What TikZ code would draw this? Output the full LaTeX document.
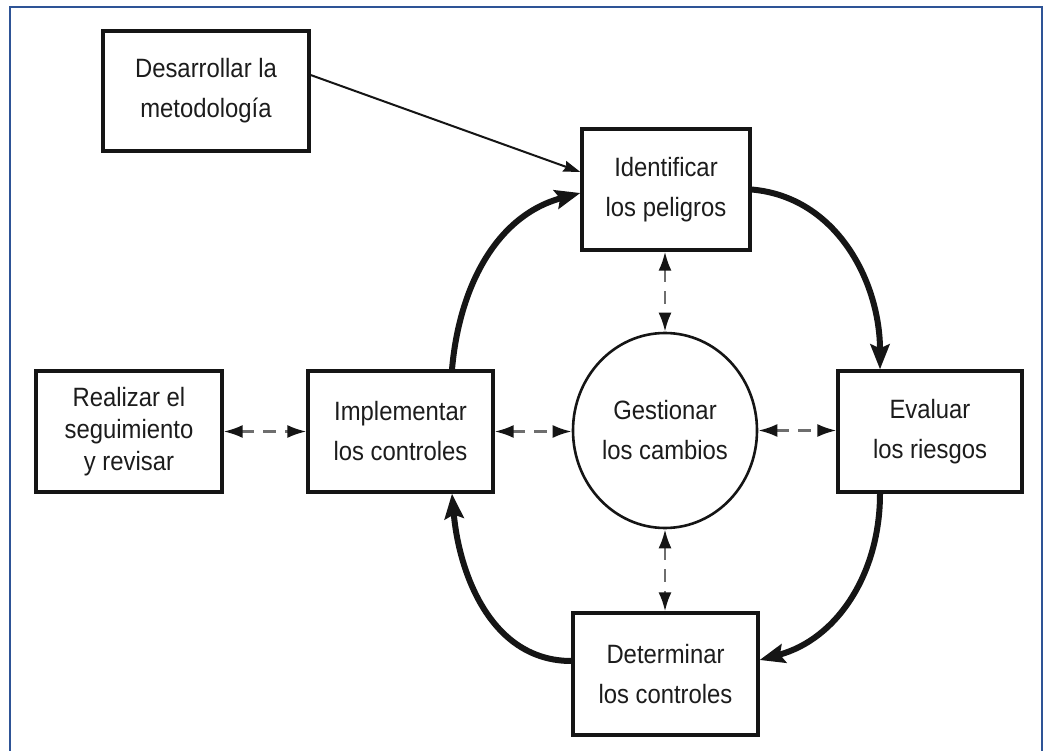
\documentclass[tikz,border=0pt]{standalone}
\usepackage{fontspec}
\setmainfont{Liberation Sans}[FakeStretch=0.9]
\usetikzlibrary{arrows.meta,shapes.geometric,calc}
\definecolor{txtc}{HTML}{1C1C1C}
\definecolor{linec}{HTML}{151515}
\definecolor{framec}{HTML}{2E5496}
\definecolor{dashc}{HTML}{6E6E6E}
\begin{document}
\begin{tikzpicture}[x=1pt,y=1pt,
  boxnode/.style={draw=linec,line width=3.2pt,rectangle,inner sep=0pt,align=center,text=txtc,
    font=\fontsize{26.5}{40}\selectfont},
  circnode/.style={draw=linec,line width=2.6pt,ellipse,inner sep=0pt,align=center,text=txtc,
    font=\fontsize{26.5}{40}\selectfont,minimum width=184pt,minimum height=195pt},
  thickarrow/.style={draw=linec,line width=6pt,-{Stealth[length=25pt,width=19pt,inset=4pt]}},
  thinarrow/.style={draw=linec,line width=2pt,-{Stealth[length=17pt,width=11pt,inset=2pt]}},
  dasharrow/.style={draw=dashc,line width=2.6pt,dash pattern=on 13pt off 9pt,
    {Latex[length=19pt,width=13pt,color=linec]}-{Latex[length=19pt,width=13pt,color=linec]}}
]
\useasboundingbox (0,0) rectangle (1044,-751);
\fill[white] (0,0) rectangle (1044,-751);
\draw[framec,line width=2.5pt] (10,-780) -- (10,-7) -- (1042,-7) -- (1042,-780);

\node[boxnode,minimum width=206pt,minimum height=120pt] (des) at (206,-91) {Desarrollar la\\metodología};
\node[boxnode,minimum width=168pt,minimum height=121pt] (ide) at (666,-189.5) {Identificar\\los peligros};
\node[boxnode,minimum width=185pt,minimum height=121pt] (imp) at (400.5,-431.5) {Implementar\\los controles};
\node[boxnode,minimum width=186pt,minimum height=121pt,font=\fontsize{26.5}{32}\selectfont] (rea) at (129,-431.5) {Realizar el\\seguimiento\\y revisar};
\node[boxnode,minimum width=184pt,minimum height=121pt] (eva) at (930,-431.5) {Evaluar\\los riesgos};
\node[boxnode,minimum width=185pt,minimum height=122pt] (det) at (665.5,-674) {Determinar\\los controles};
\node[circnode] (ges) at (665,-430.5) {Gestionar\\los cambios};

\draw[thinarrow] ($(des.east)+(0,16)$) -- ($(ide.west)+(0,17.5)$);

\draw[thickarrow] ($(imp.north)+(51.5,0)$) to[out=85,in=195] ($(ide.west)+(0,-3.5)$);
\draw[thickarrow] (ide.east) to[out=-5,in=90] ($(eva.north)+(-50,0)$);
\draw[thickarrow] ($(eva.south)+(-50,0)$) to[out=-90,in=15] ($(det.east)+(0,14)$);
\draw[thickarrow] ($(det.west)+(0,13)$) to[out=180,in=-85] ($(imp.south)+(51.5,0)$);

\draw[dasharrow] (rea.east) -- (imp.west);
\draw[dasharrow] (imp.east) -- (imp.east -| ges.west);
\draw[dasharrow] (ges.east) -- (ges.east -| eva.west);
\draw[dasharrow] (ide.south -| ges.north) -- (ges.north);
\draw[dasharrow] (ges.south) -- (det.north -| ges.south);
\end{tikzpicture}
\end{document}
